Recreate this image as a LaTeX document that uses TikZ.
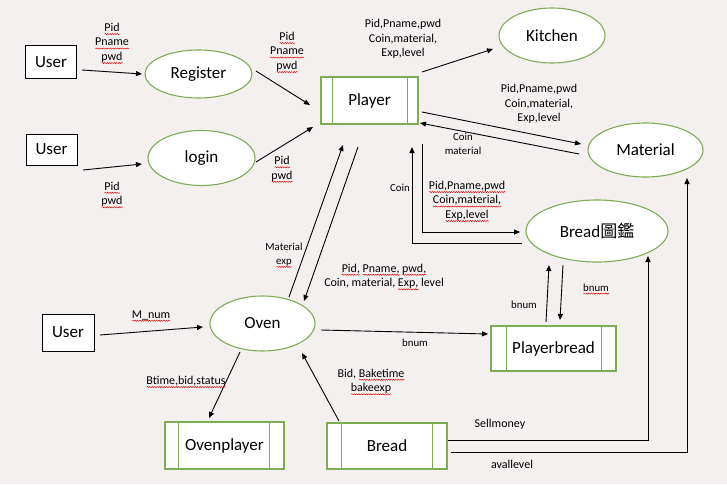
\documentclass[tikz,border=0pt]{standalone}
\usepackage{fontspec}
\setmainfont{Carlito}
\newfontfamily\cjk{Noto Sans CJK TC}
\usetikzlibrary{shapes.geometric,arrows.meta,decorations.pathmorphing}
\definecolor{grn}{RGB}{125,172,85}
\definecolor{bgc}{RGB}{244,240,240}
\newsavebox\sqbox
\newlength\sqlen
\newcommand\sq[1]{\sbox\sqbox{#1}\setlength\sqlen{\wd\sqbox}\rlap{\tikz[baseline=0pt,x=1pt,y=1pt]\draw[red!85!black,line width=0.45pt,decorate,decoration={snake,amplitude=0.6pt,segment length=2.4pt}] (0,-2.6) -- (\sqlen,-2.6);}\usebox\sqbox}
\tikzset{
  ent/.style={draw=black,line width=1pt,fill=white,rectangle,inner sep=0pt,font=\fontsize{17}{20}\selectfont},
  proc/.style={draw=grn,line width=1.1pt,fill=white,ellipse,inner sep=0pt,font=\fontsize{17}{20}\selectfont},
  store/.style={draw=grn,line width=1.1pt,fill=white,rectangle,inner sep=0pt,font=\fontsize{17}{20}\selectfont},
  arr/.style={draw=black,line width=0.9pt,-{Triangle[length=6pt,width=5pt]}},
  lbl/.style={align=center,inner sep=0pt,font=\fontsize{12}{14.5}\selectfont},
  slbl/.style={align=center,inner sep=0pt,font=\fontsize{10.8}{13.5}\selectfont},
  sep/.style={draw=grn,line width=1.1pt}
}
\begin{document}
\begin{tikzpicture}[x=1pt,y=-1pt]
\fill[bgc] (0,0) rectangle (727,484);
\useasboundingbox (0,0) rectangle (727,484);

% entities
\node[ent,minimum width=51pt,minimum height=33pt] (user1) at (51,62.5) {User};
\node[ent,minimum width=51pt,minimum height=31pt] (user2) at (51.5,149.5) {User};
\node[ent,minimum width=52pt,minimum height=37pt] (user3) at (68,332.5) {User};

% processes
\node[proc,minimum width=107pt,minimum height=48pt] (register) at (198.5,74) {Register};
\node[proc,minimum width=107pt,minimum height=55pt] (login) at (201.5,158) {login};
\node[proc,minimum width=106pt,minimum height=55pt] (kitchen) at (552,35.5) {Kitchen};
\node[proc,minimum width=115pt,minimum height=54pt] (material) at (645.5,150) {Material};
\node[proc,minimum width=142pt,minimum height=62pt] (breadbook) at (597,231) {Bread{\cjk 圖鑑}};
\node[proc,minimum width=105pt,minimum height=55pt] (oven) at (262.5,323.5) {Oven};

% stores
\node[store,minimum width=97pt,minimum height=47pt] (player) at (369.5,100.5) {Player};
\draw[sep] ([xshift=12pt]player.north west) -- ([xshift=12pt]player.south west);
\draw[sep] ([xshift=-11pt]player.north east) -- ([xshift=-11pt]player.south east);
\node[store,minimum width=125pt,minimum height=45pt] (playerbread) at (553.5,348.5) {Playerbread};
\draw[sep] ([xshift=16pt]playerbread.north west) -- ([xshift=16pt]playerbread.south west);
\draw[sep] ([xshift=-15pt]playerbread.north east) -- ([xshift=-15pt]playerbread.south east);
\node[store,minimum width=119pt,minimum height=47pt] (ovenplayer) at (224.5,445.5) {Ovenplayer};
\draw[sep] ([xshift=14pt]ovenplayer.north west) -- ([xshift=14pt]ovenplayer.south west);
\draw[sep] ([xshift=-15pt]ovenplayer.north east) -- ([xshift=-15pt]ovenplayer.south east);
\node[store,minimum width=120pt,minimum height=46pt] (bread) at (387,446) {Bread};
\draw[sep] ([xshift=15pt]bread.north west) -- ([xshift=15pt]bread.south west);
\draw[sep] ([xshift=-15pt]bread.north east) -- ([xshift=-15pt]bread.south east);

% connectors
\draw[arr] ([shift={(31,7.5)}]user1.center) -- ([shift={(-56.5,0)}]register.center);
\draw[arr] ([shift={(57.5,-3)}]register.center) -- ([shift={(-59.5,4.5)}]player.center);
\draw[arr] ([shift={(31.5,20.5)}]user2.center) -- ([shift={(-59.5,6)}]login.center);
\draw[arr] ([shift={(54.5,4)}]login.center) -- ([shift={(-56.5,26.5)}]player.center);
\draw[arr] ([shift={(52.5,-28.5)}]player.center) -- ([shift={(-59,13.5)}]kitchen.center);
\draw[arr] ([shift={(52.5,11.5)}]player.center) -- ([shift={(-64.5,-6)}]material.center);
\draw[arr] ([shift={(-66.5,4)}]material.center) -- ([shift={(50.5,22.5)}]player.center);
\draw[arr] ([shift={(52.5,43.5)}]player.center) |- ([shift={(-77,1)}]breadbook.center);
\draw[arr] ([shift={(-75,12)}]breadbook.center) -| ([shift={(42.5,46.5)}]player.center);
\draw[arr] ([shift={(26.5,-26.5)}]oven.center) -- ([shift={(-26.5,44.5)}]player.center);
\draw[arr] ([shift={(-11.5,46.5)}]player.center) -- ([shift={(41.5,-22.5)}]oven.center);
\draw[arr] ([shift={(32,2.5)}]user3.center) -- ([shift={(-59.5,3.5)}]oven.center);
\draw[arr] ([shift={(58.5,6.5)}]oven.center) -- ([shift={(-65.5,-14.5)}]playerbread.center);
\draw[arr] ([shift={(-7.5,-26.5)}]playerbread.center) -- ([shift={(-48,34)}]breadbook.center);
\draw[arr] ([shift={(-34,34)}]breadbook.center) -- ([shift={(6.5,-28.5)}]playerbread.center);
\draw[arr] ([shift={(-22.5,28.5)}]oven.center) -- ([shift={(-15.5,-27.5)}]ovenplayer.center);
\draw[arr] ([shift={(-48,-25)}]bread.center) -- ([shift={(39.5,29.5)}]oven.center);
\draw[arr] ([shift={(61,-6)}]bread.center) -| ([shift={(51,25)}]breadbook.center);
\draw[arr] ([shift={(64,6)}]bread.center) -| ([shift={(41.5,28)}]material.center);

% labels
\node[lbl] (l1) at (112,43.5) {\sq{Pid}\\\sq{Pname}\\\sq{pwd}};
\node[lbl] (l2) at (287,52.5) {\sq{Pid}\\\sq{Pname}\\\sq{pwd}};
\node[lbl] (l3) at (112,195) {\sq{Pid}\\\sq{pwd}};
\node[lbl] (l4) at (282,169.5) {\sq{Pid}\\\sq{pwd}};
\node[lbl] (l5) at (403,39) {Pid,Pname,pwd\\Coin,material,\\Exp,level};
\node[lbl] (l6) at (539,104) {Pid,Pname,pwd\\Coin,material,\\Exp,level};
\node[slbl] (l7) at (463,144) {Coin\\material};
\node[lbl] (l8) at (467,201.5) {\sq{Pid,Pname,pwd}\\\sq{Coin,material,}\\\sq{Exp,level}};
\node[slbl] (l9) at (400,188) {Coin};
\node[slbl] (l10) at (284,255.5) {Material\\\sq{exp}};
\node[lbl] (l11) at (384,277) {\sq{Pid,} \sq{Pname,} \sq{pwd,}\\Coin, material, \sq{Exp,} level};
\node[lbl] (l12) at (151,316) {\sq{M\_num}};
\node[slbl] (l13) at (415,343) {bnum};
\node[slbl] (l14) at (524,305) {bnum};
\node[slbl] (l15) at (596,289) {\sq{bnum}};
\node[lbl] (l16) at (186,382) {\sq{Btime,bid,status}};
\node[lbl] (l17) at (371,382) {Bid, \sq{Baketime}\\\sq{bakeexp}};
\node[lbl] (l18) at (500,424) {Sellmoney};
\node[lbl] (l19) at (512,464) {avallevel};
\end{tikzpicture}
\end{document}
